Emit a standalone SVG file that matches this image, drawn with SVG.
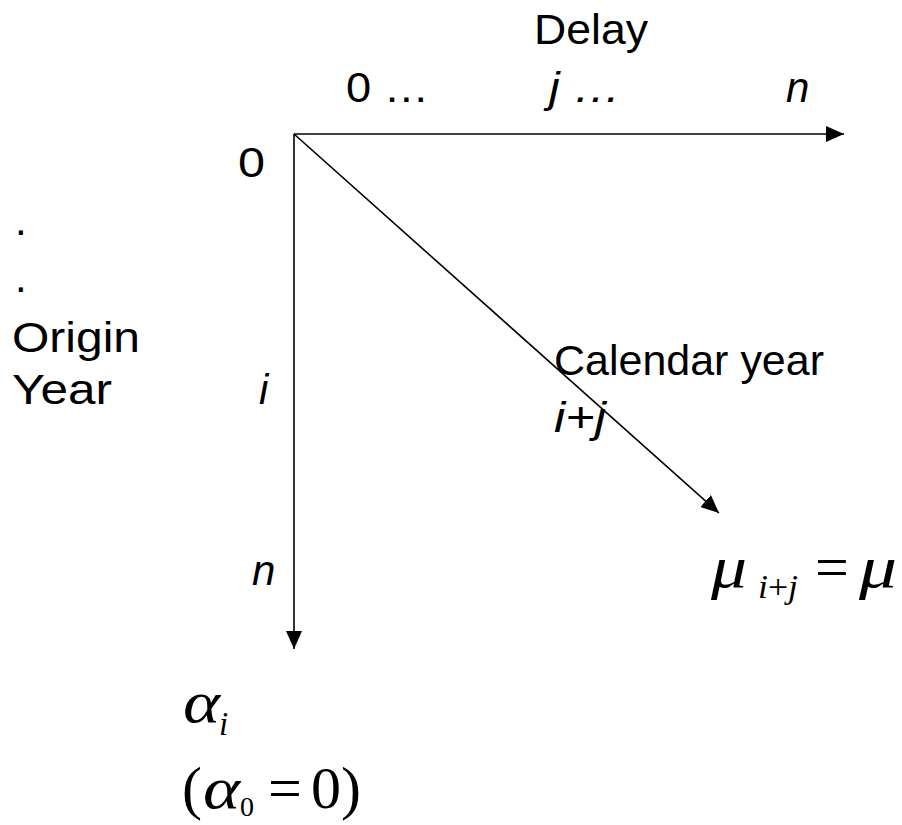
<svg xmlns="http://www.w3.org/2000/svg" width="902" height="825" viewBox="0 0 902 825">
<style>
.t{font-family:"Liberation Sans",Arial,sans-serif;font-size:42px;fill:#000}
.it{font-style:italic}
.m{font-family:"Liberation Serif","Times New Roman",serif;font-size:60px;fill:#000}
.s{font-size:33px}
.ax{stroke:#000;stroke-width:1.6;fill:none}
</style>
<defs>
<marker id="ah" viewBox="0 0 18 16" refX="18" refY="8" markerWidth="18" markerHeight="16" markerUnits="userSpaceOnUse" orient="auto">
<path d="M0,0 L18,8 L0,16 Z" fill="#000"/>
</marker>
</defs>
<g id="connectors">
<line class="ax" x1="294" y1="134" x2="844" y2="134" marker-end="url(#ah)"/>
<line class="ax" x1="294" y1="134" x2="294" y2="649" marker-end="url(#ah)"/>
<line class="ax" x1="294" y1="134" x2="719" y2="513" marker-end="url(#ah)"/>
</g>
<g id="delay-axis">
<text class="t" x="534" y="44" textLength="114" lengthAdjust="spacingAndGlyphs">Delay</text>
<text class="t" x="346" y="102" textLength="83" lengthAdjust="spacingAndGlyphs">0 …</text>
<text class="t it" x="549" y="102" textLength="72" lengthAdjust="spacingAndGlyphs">j …</text>
<text class="t it" x="786" y="102">n</text>
</g>
<g id="origin-axis">
<text class="t" x="238" y="177" textLength="27" lengthAdjust="spacingAndGlyphs">0</text>
<text class="t" x="15" y="235">.</text>
<text class="t" x="15" y="292">.</text>
<text class="t" x="12" y="352" textLength="128" lengthAdjust="spacingAndGlyphs">Origin</text>
<text class="t" x="12" y="404" textLength="100" lengthAdjust="spacingAndGlyphs">Year</text>
<text class="t it" x="259" y="404">i</text>
<text class="t it" x="252" y="585">n</text>
</g>
<g id="calendar">
<text class="t" x="554" y="375" textLength="270" lengthAdjust="spacingAndGlyphs">Calendar year</text>
<text class="t it" x="554" y="432" textLength="52" lengthAdjust="spacingAndGlyphs">i+j</text>
</g>
<g id="mu">
<text class="m" x="711" y="587" font-style="italic" textLength="36" lengthAdjust="spacingAndGlyphs">μ</text>
<text class="m s" x="758" y="598" textLength="40" lengthAdjust="spacingAndGlyphs"><tspan font-style="italic">i</tspan>+<tspan font-style="italic">j</tspan></text>
<text class="m" x="815" y="587">=</text>
<text class="m" x="859" y="587" font-style="italic" textLength="38" lengthAdjust="spacingAndGlyphs">μ</text>
</g>
<g id="alpha">
<text class="m" x="183" y="722" font-style="italic" textLength="37" lengthAdjust="spacingAndGlyphs">α</text>
<text class="m s" x="219" y="735" font-style="italic">i</text>
<text class="m" x="182" y="808">(</text>
<text class="m" x="203" y="808" font-style="italic" textLength="37" lengthAdjust="spacingAndGlyphs">α</text>
<text class="m s" x="240" y="816" style="font-size:28px">0</text>
<text class="m" x="268" y="808">=</text>
<text class="m" x="311" y="808">0)</text>
</g>
</svg>
